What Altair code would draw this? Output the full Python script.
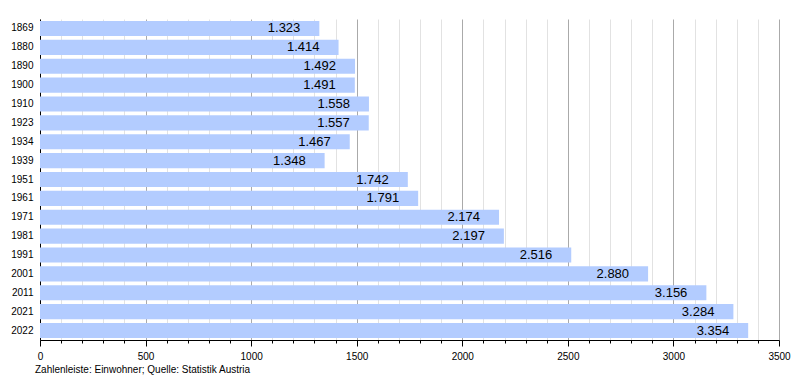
import altair as alt
import pandas as pd

years = ["1869", "1880", "1890", "1900", "1910", "1923", "1934", "1939", "1951",
         "1961", "1971", "1981", "1991", "2001", "2011", "2021", "2022"]
values = [1323, 1414, 1492, 1491, 1558, 1557, 1467, 1348, 1742,
          1791, 2174, 2197, 2516, 2880, 3156, 3284, 3354]
labels = ["1.323", "1.414", "1.492", "1.491", "1.558", "1.557", "1.467", "1.348", "1.742",
          "1.791", "2.174", "2.197", "2.516", "2.880", "3.156", "3.284", "3.354"]
major_ticks = [0, 500, 1000, 1500, 2000, 2500, 3000, 3500]
minor_ticks = [v for v in range(0, 3501, 100) if v % 500 != 0]

df = pd.DataFrame({"year": years, "value": values, "label": labels})

FONT = "Liberation Sans"
domain = [0, 3500]

y_axis = alt.Axis(ticks=False, domainColor="black", labelFontSize=10,
                  labelColor="black", labelPadding=7, labelFont=FONT, grid=False)
y_scale = alt.Scale(paddingInner=0.2, paddingOuter=0.1)

bars = alt.Chart(df).mark_bar(color="#b3ccff").encode(
    x=alt.X("value:Q", title=None,
            scale=alt.Scale(domain=domain, nice=False),
            axis=alt.Axis(values=major_ticks, grid=True, gridColor="#aaaaaa",
                          tickSize=6, tickColor="black", domainColor="black",
                          labelFontSize=10, labelFont=FONT, labelColor="black",
                          labelPadding=5, orient="bottom", format="d",
                          labelFlush=False)),
    y=alt.Y("year:N", sort=years, title=None, scale=y_scale, axis=y_axis),
)

text = alt.Chart(df).mark_text(align="right", baseline="middle", dx=-19,
                               fontSize=13, font=FONT, color="black").encode(
    x=alt.X("value:Q", title=None,
            scale=alt.Scale(domain=domain, nice=False),
            axis=alt.Axis(values=minor_ticks, grid=True, gridColor="#e2e2e2",
                          tickSize=3, tickColor="black", domain=False,
                          labels=False, orient="bottom")),
    y=alt.Y("year:N", sort=years, title=None, scale=y_scale, axis=y_axis),
    text="label:N",
)

chart = alt.layer(bars, text).resolve_scale(x="independent").resolve_axis(x="independent").properties(
    width=739, height=321,
    autosize=alt.AutoSizeParams(type="none"),
    padding={"left": 32, "top": 11, "right": 13, "bottom": 36},
    title=alt.TitleParams("Zahlenleiste: Einwohner; Quelle: Statistik Austria",
                          orient="bottom", anchor="start", frame="group", fontSize=10,
                          fontWeight="normal", font=FONT, color="black",
                          dx=-5, offset=4),
).configure_view(stroke=None)

chart.save("out.html", embed_options={"renderer": "svg", "actions": False})
